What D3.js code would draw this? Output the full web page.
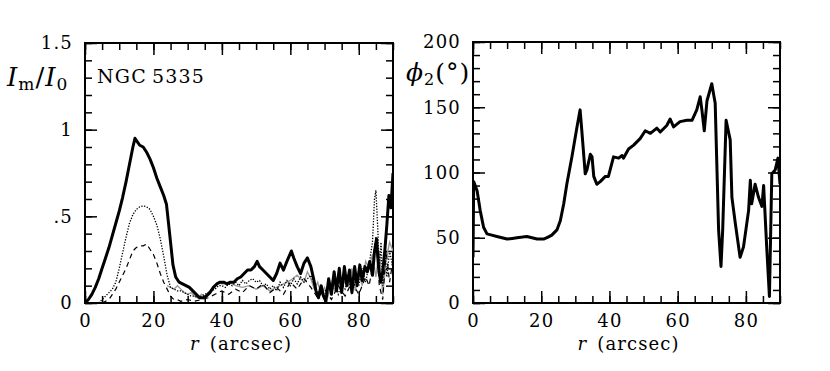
<!DOCTYPE html>
<html><head><meta charset="utf-8">
<script src="https://cdn.jsdelivr.net/npm/d3@7"></script>
<style>
body{margin:0;background:#fff;}
svg{display:block;}
text{font-family:"DejaVu Serif","Liberation Serif",serif;fill:#000;}
</style></head>
<body>
<svg id="c" width="830" height="371"></svg>
<script>
// ---------- DATA ----------
const rTicks = [0, 20, 40, 60, 80];
const ampTicks = [0, 0.5, 1, 1.5];
const ampTickLabels = ["0", ".5", "1", "1.5"];
const phiTicks = [0, 50, 100, 150, 200];

// I_m/I_0, thick solid
const ampSolid = [[0,0],[1,0.02],[2,0.05],[3,0.09],[4,0.14],[5,0.2],[6,0.26],[7,0.32],[8,0.39],[9,0.46],[10,0.53],[11,0.61],[12,0.7],[13,0.8],[14,0.9],[14.6,0.95],[15.3,0.93],[16,0.91],[17,0.9],[18,0.87],[19,0.83],[20,0.78],[21,0.72],[22,0.67],[23,0.62],[23.8,0.57],[24.3,0.48],[25,0.35],[25.7,0.22],[26.5,0.15],[27.5,0.12],[28.5,0.11],[29.5,0.1],[30.5,0.09],[31.5,0.07],[32.5,0.05],[33.5,0.03],[34.5,0.03],[35.5,0.04],[36.5,0.06],[37.5,0.09],[38.5,0.11],[39.5,0.12],[40.5,0.12],[41.5,0.11],[42.5,0.12],[43.5,0.12],[44.5,0.14],[45.5,0.15],[46.5,0.17],[47.5,0.19],[48.5,0.19],[49.5,0.21],[50.3,0.24],[51,0.21],[52,0.19],[53,0.17],[54,0.15],[55,0.13],[56,0.17],[57,0.23],[58,0.19],[59,0.24],[60.3,0.3],[61,0.26],[62,0.21],[63,0.17],[64,0.23],[65,0.26],[66,0.21],[66.8,0.14],[67.5,0.07],[68.2,0.03],[69,0.1],[69.7,0.04],[70.4,0.01],[71.2,0.14],[72,0.05],[72.8,0.18],[73.5,0.07],[74.3,0.2],[75,0.06],[75.8,0.21],[76.5,0.1],[77.3,0.19],[78,0.06],[78.8,0.21],[79.5,0.1],[80.3,0.22],[81,0.13],[81.8,0.21],[82.5,0.18],[83.2,0.24],[84,0.16],[84.6,0.3],[85.2,0.37],[85.8,0.2],[86.4,0.12],[87,0.18],[87.6,0.3],[88.2,0.45],[88.8,0.62],[89.4,0.55],[90,0.75]];

// I_m/I_0, dotted (peak ~0.55)
const ampDotted = [[4,0],[5,0.02],[6,0.04],[7,0.06],[8,0.08],[9,0.12],[10,0.2],[11,0.29],[12,0.38],[13,0.46],[14,0.51],[15,0.54],[16,0.555],[17,0.56],[18,0.555],[19,0.54],[20,0.5],[21,0.45],[22,0.37],[23,0.27],[24,0.16],[25,0.09],[26,0.08],[27,0.07],[28,0.07],[29,0.06],[30,0.05],[31,0.04],[32,0.04],[33,0.03],[34,0.04],[35,0.05],[36,0.06],[37,0.07],[38,0.08],[39,0.1],[40,0.1],[41,0.09],[42,0.11],[43,0.1],[44,0.12],[45,0.1],[46,0.13],[47,0.11],[48,0.13],[49,0.14],[50,0.12],[51,0.13],[52,0.1],[53,0.11],[54,0.08],[55,0.1],[56,0.07],[57,0.12],[58,0.09],[59,0.13],[60,0.1],[61,0.14],[62,0.11],[63,0.15],[64,0.12],[65,0.14],[66,0.16],[67,0.1],[68,0.05],[69,0.09],[70,0.04],[71,0.1],[72,0.06],[73,0.12],[74,0.05],[75,0.11],[76,0.08],[77,0.14],[78,0.06],[79,0.12],[80,0.1],[81,0.2],[82,0.12],[83,0.22],[84,0.35],[84.6,0.6],[85,0.65],[85.5,0.45],[86,0.2],[86.5,0.35],[87,0.1],[87.6,0.3],[88.2,0.15],[89,0.3],[90,0.2]];

// I_m/I_0, dashed (peak ~0.33)
const ampDashed = [[5,0],[6,0.01],[7,0.02],[8,0.05],[9,0.08],[10,0.12],[11,0.16],[12,0.2],[13,0.25],[14,0.3],[15,0.32],[16,0.33],[17,0.33],[18,0.34],[19,0.31],[20,0.28],[21,0.23],[22,0.17],[23,0.12],[24,0.08],[25,0.04],[26,0.02],[27,0.02],[28,0.01],[30,0.02],[32,0.01],[34,0.02],[36,0.03],[38,0.05],[40,0.07],[42,0.05],[44,0.08],[46,0.06],[48,0.1],[50,0.08],[52,0.11],[54,0.06],[56,0.09],[58,0.05],[60,0.12],[62,0.08],[64,0.14],[66,0.09],[68,0.03],[70,0.08],[72,0.02],[74,0.1],[76,0.04],[78,0.12],[80,0.05],[82,0.15],[83,0.1],[84,0.2],[85,0.38],[86,0.1],[87,0.02],[88,0.3],[89,0.12],[90,0.25]];

// I_m/I_0, grey
const ampGrey = [[24,0.1],[25,0.09],[26,0.08],[27,0.1],[28,0.08],[29,0.06],[30,0.05],[31,0.06],[32,0.04],[33,0.03],[34,0.05],[35,0.04],[36,0.06],[37,0.08],[38,0.1],[39,0.12],[40,0.11],[42,0.12],[44,0.1],[46,0.09],[48,0.1],[50,0.08],[52,0.1],[54,0.07],[56,0.09],[58,0.11],[60,0.13],[62,0.16],[64,0.12],[65,0.18],[66,0.14],[67,0.08],[68,0.12],[69,0.05],[70,0.09],[71,0.04],[72,0.12],[73,0.07],[74,0.15],[75,0.08],[76,0.13],[77,0.1],[78,0.2],[79,0.07],[80,0.18],[81,0.1],[82,0.24],[83,0.2],[84,0.28],[85,0.15],[86,0.3],[87,0.05],[88,0.25],[89,0.35],[90,0.3]];

// phi_2 (degrees)
const phase = [[0,35],[0.2,93],[1.2,86],[2.1,71],[3.1,58],[4.1,53],[5.5,52],[7,51],[8.5,50],[10,49],[11.5,49.5],[12.9,50],[14.5,50.5],[15.8,51],[17.3,50],[18.8,49],[20.7,49],[22,50.5],[23.1,52],[24.6,56],[25.6,63],[26.6,76],[27.5,91],[29,112],[30.5,135],[31.4,148],[31.9,132],[32.9,99],[33.4,102],[34.4,114],[34.9,112],[35.4,97],[36.3,91],[37.3,93],[38.8,97],[39.7,97],[41.2,112],[42.7,111],[43.7,113],[44.1,111],[45.6,118],[47.1,121],[49,126],[50.5,132],[52,130],[53.9,134],[54.9,131],[56.8,136],[57.8,141],[58.8,135],[60.7,139],[62.7,140],[64.2,140],[65.6,148],[66.6,158],[67.1,148],[67.8,132],[68.6,155],[70,168],[71,153],[72,56],[72.7,28],[73.2,56],[74.2,140],[75.4,125],[75.9,81],[76.9,61],[78.3,35],[79.3,43],[80.8,71],[81.3,94],[81.7,76],[82.7,91],[83.7,81],[84.7,74],[85.2,90],[86.1,43],[86.9,5],[87.6,99],[88.6,102],[89.4,111],[90,91]];

// ---------- DRAW ----------
const svg = d3.select("#c");
const P1 = {x0:85, x1:393, y0:43, y1:303};
const P2 = {x0:473, x1:780, y0:42, y1:303};

function panel(P, yDomain, yMajor, yMinorStep, yFmt, xMinor){
  const x = d3.scaleLinear().domain([0,90]).range([P.x0,P.x1]);
  const y = d3.scaleLinear().domain(yDomain).range([P.y1,P.y0]);
  const g = svg.append("g");
  const W = P.x1-P.x0, H = P.y1-P.y0;
  const yMinor = d3.range(yDomain[0], yDomain[1]+1e-9, yMinorStep);
  const MJ = 12, MN = 7;
  function add(axis, tx, ty, labels){
    const a = g.append("g").attr("transform",`translate(${tx},${ty})`).call(axis);
    a.select(".domain").remove();
    a.selectAll("line").attr("stroke","#000").attr("stroke-width",1.5);
    if(!labels) a.selectAll("text").remove();
    return a;
  }
  // minor ticks
  add(d3.axisBottom(x).tickValues(xMinor).tickSize(-MN).tickFormat(""), 0, P.y1);
  add(d3.axisTop(x).tickValues(xMinor).tickSize(-MN).tickFormat(""), 0, P.y0);
  add(d3.axisLeft(y).tickValues(yMinor).tickSize(-MN).tickFormat(""), P.x0, 0);
  add(d3.axisRight(y).tickValues(yMinor).tickSize(-MN).tickFormat(""), P.x1, 0);
  // major ticks
  const bx = add(d3.axisBottom(x).tickValues(rTicks).tickSize(-MJ).tickPadding(13).tickFormat(d3.format("d")), 0, P.y1, true);
  add(d3.axisTop(x).tickValues(rTicks).tickSize(-MJ).tickFormat(""), 0, P.y0);
  const ly = add(d3.axisLeft(y).tickValues(yMajor).tickSize(-MJ).tickPadding(12).tickFormat(yFmt), P.x0, 0, true);
  add(d3.axisRight(y).tickValues(yMajor).tickSize(-MJ).tickFormat(""), P.x1, 0);
  [bx, ly].forEach(a=>a.selectAll("text")
    .attr("font-family","'DejaVu Serif',serif").attr("font-size",18)
    .attr("letter-spacing",1.2).attr("fill","#000"));
  bx.selectAll("text").attr("dy","0.62em");
  // frame
  g.append("rect").attr("x",P.x0).attr("y",P.y0).attr("width",W).attr("height",H)
    .attr("fill","none").attr("stroke","#000").attr("stroke-width",2);
  // x title
  const t = g.append("text").attr("x",(P.x0+P.x1)/2+2).attr("y",350)
    .attr("text-anchor","middle").attr("font-size",18).attr("letter-spacing",1.1);
  t.append("tspan").attr("font-style","italic").text("r");
  t.append("tspan").text("\u2002(arcsec)");
  return {x,y,g};
}

const left = panel(P1, [0,1.5], ampTicks, 0.1, (d,i)=>ampTickLabels[i], d3.range(0,91,5));
const right = panel(P2, [0,200], phiTicks, 10, d3.format("d"), d3.range(0,91,5));

svg.append("clipPath").attr("id","cl1").append("rect")
  .attr("x",P1.x0).attr("y",P1.y0).attr("width",P1.x1-P1.x0).attr("height",P1.y1-P1.y0);
svg.append("clipPath").attr("id","cl2").append("rect")
  .attr("x",P2.x0).attr("y",P2.y0).attr("width",P2.x1-P2.x0).attr("height",P2.y1-P2.y0);

const l1 = d3.line().x(d=>left.x(d[0])).y(d=>left.y(d[1]));
const lines1 = svg.append("g").attr("clip-path","url(#cl1)");
lines1.append("path").datum(ampGrey).attr("d",l1).attr("fill","none")
  .attr("stroke","#9a9a9a").attr("stroke-width",1.4);
lines1.append("path").datum(ampDashed).attr("d",l1).attr("fill","none")
  .attr("stroke","#000").attr("stroke-width",1.2).attr("stroke-dasharray","5,4");
lines1.append("path").datum(ampDotted).attr("d",l1).attr("fill","none")
  .attr("stroke","#000").attr("stroke-width",1.3).attr("stroke-dasharray","1.3,1.5");
lines1.append("path").datum(ampSolid).attr("d",l1).attr("fill","none")
  .attr("stroke","#000").attr("stroke-width",3).attr("stroke-linejoin","round");

const l2 = d3.line().x(d=>right.x(d[0])).y(d=>right.y(d[1]));
svg.append("g").attr("clip-path","url(#cl2)").append("path").datum(phase).attr("d",l2)
  .attr("fill","none").attr("stroke","#000").attr("stroke-width",3).attr("stroke-linejoin","round");

// panel labels
const yl = svg.append("text").attr("x",7).attr("y",86).attr("font-size",26).attr("letter-spacing",1);
yl.append("tspan").attr("font-style","italic").text("I");
yl.append("tspan").attr("font-size",17).attr("dy",4).text("m");
yl.append("tspan").attr("dy",-4).text("/");
yl.append("tspan").attr("font-style","italic").text("I");
yl.append("tspan").attr("font-size",17).attr("dy",4).text("0");

svg.append("text").attr("x",97).attr("y",83).attr("font-size",19).attr("letter-spacing",1.2)
  .text("NGC\u20095335");

const pl = svg.append("text").attr("x",406).attr("y",81).attr("font-size",25).attr("letter-spacing",1);
pl.append("tspan").attr("font-style","italic").text("\u03D5");
pl.append("tspan").attr("font-size",16).attr("dy",4).text("2");
pl.append("tspan").attr("dy",-4).text("(\u00B0)");
</script>
</body></html>
